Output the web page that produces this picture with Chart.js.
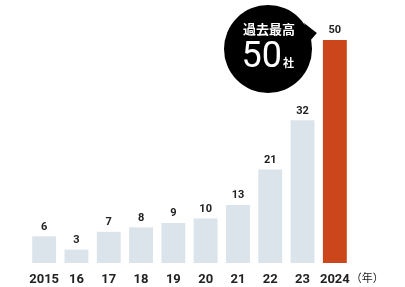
<!DOCTYPE html>
<html>
<head>
<meta charset="utf-8">
<script src="https://cdn.jsdelivr.net/npm/chart.js@4"></script>
<style>
  html, body { margin: 0; padding: 0; background: #fff; }
  #wrap { width: 405px; height: 287px; }
</style>
</head>
<body>
<div id="wrap"><canvas id="chart" width="405" height="287"></canvas></div>
<script>
const years = ["2015", "16", "17", "18", "19", "20", "21", "22", "23", "2024"];
const companies = [6, 3, 7, 8, 9, 10, 13, 21, 32, 50];
const barColors = ["#dbe4eb", "#dbe4eb", "#dbe4eb", "#dbe4eb", "#dbe4eb",
                   "#dbe4eb", "#dbe4eb", "#dbe4eb", "#dbe4eb", "#cb471b"];
const calloutTitle = "過去最高";
const calloutValue = "50";
const calloutUnit = "社";
const yearUnit = "（年）";

const numFont = "Roboto, 'Noto Sans CJK JP', sans-serif";
const jpFont = "'Noto Sans CJK JP', sans-serif";

// value labels above each bar
const valueLabels = {
  id: "valueLabels",
  afterDatasetsDraw(chart) {
    const ctx = chart.ctx;
    const meta = chart.getDatasetMeta(0);
    ctx.save();
    ctx.fillStyle = "#222";
    ctx.font = "bold 11px " + numFont;
    ctx.textAlign = "center";
    ctx.textBaseline = "bottom";
    meta.data.forEach((bar, i) => {
      ctx.fillText(companies[i], bar.x, bar.y - 4);
    });
    ctx.restore();
  }
};

// black speech bubble + (年) unit
const extras = {
  id: "extras",
  afterDraw(chart) {
    const ctx = chart.ctx;
    const meta = chart.getDatasetMeta(0);
    const last = meta.data[meta.data.length - 1];
    const xScale = chart.scales.x;

    const cx = 268, cy = 49, r = 44;
    ctx.save();
    ctx.fillStyle = "#000";
    ctx.beginPath();
    ctx.arc(cx, cy, r, 0, Math.PI * 2);
    ctx.fill();
    // tail toward the last bar
    ctx.beginPath();
    ctx.moveTo(cx + 36, cy - 26);
    ctx.lineTo(last.x - 18, last.y - 7);
    ctx.lineTo(cx + 42, cy - 8);
    ctx.closePath();
    ctx.fill();

    ctx.fillStyle = "#fff";
    ctx.textAlign = "center";
    ctx.textBaseline = "middle";
    ctx.font = "bold 13px " + jpFont;
    ctx.fillText(calloutTitle, cx + 1, cy - 20);
    ctx.font = "36px " + numFont;
    ctx.textAlign = "right";
    ctx.fillText(calloutValue, cx + 14, cy + 9);
    ctx.textAlign = "left";
    ctx.font = "bold 11px " + jpFont;
    ctx.fillText(calloutUnit, cx + 15, cy + 14);

    // (年) next to the last tick label
    ctx.fillStyle = "#222";
    ctx.font = "11px " + jpFont;
    ctx.textAlign = "left";
    ctx.textBaseline = "middle";
    ctx.fillText(yearUnit, xScale.getPixelForValue(years.length - 1) + 16, 278);
    ctx.restore();
  }
};

new Chart(document.getElementById("chart"), {
  type: "bar",
  data: {
    labels: years,
    datasets: [{
      data: companies,
      backgroundColor: barColors,
      borderWidth: 0,
      barPercentage: 0.74,
      categoryPercentage: 1
    }]
  },
  options: {
    responsive: false,
    animation: false,
    layout: { padding: { left: 28, right: 54, top: 0, bottom: 0 } },
    plugins: { legend: { display: false }, tooltip: { enabled: false } },
    scales: {
      x: {
        grid: { display: false },
        border: { display: false },
        afterFit(scale) { scale.height = 24; },
        ticks: {
          color: "#222",
          font: { family: numFont, size: 13, weight: "bold" },
          padding: 1,
          autoSkip: false,
          maxRotation: 0
        }
      },
      y: {
        display: false,
        min: 0,
        max: 59
      }
    }
  },
  plugins: [valueLabels, extras]
});
</script>
</body>
</html>
